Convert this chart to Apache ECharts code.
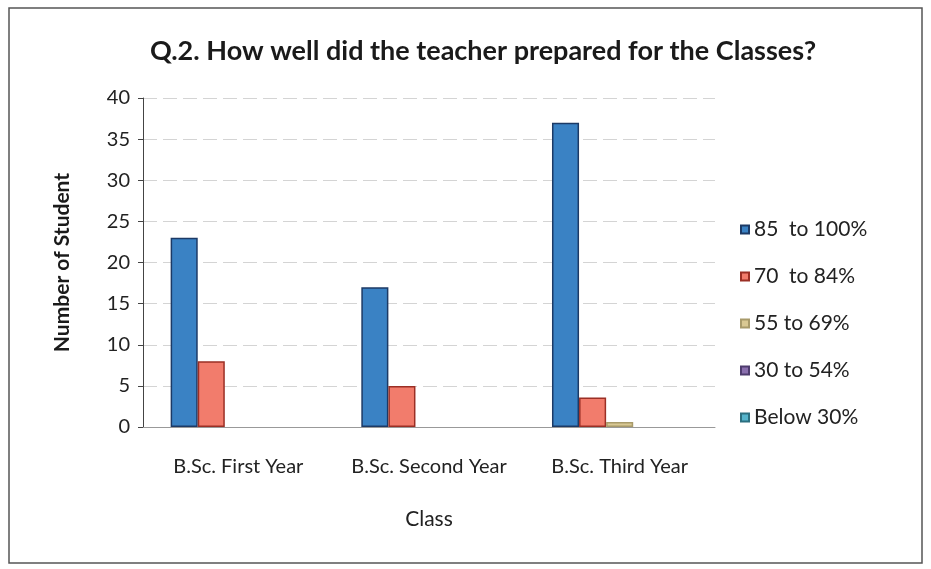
<!DOCTYPE html>
<html>
<head>
<meta charset="utf-8">
<script src="https://cdn.jsdelivr.net/npm/echarts@6/dist/echarts.min.js"></script>
<style>
  html, body { margin: 0; padding: 0; background: #fff; }
  #chart { width: 931px; height: 569px; }
</style>
</head>
<body>
<div id="chart"></div>
<script>
// values
const classes = ['B.Sc. First Year', 'B.Sc. Second Year', 'B.Sc. Third Year'];
const seriesNames = ['85  to 100%', '70  to 84%', '55 to 69%', '30 to 54%', 'Below 30%'];
const band85to100 = [23, 17, 37];
const band70to84 = [8, 5, 3.6];
const band55to69 = [0, 0, 0.6];
const band30to54 = [0, 0, 0];
const bandBelow30 = [0, 0, 0];

const fills = ['#3a82c4', '#f27c6c', '#d9c893', '#8a6fae', '#55b4cc'];
const borders = ['#1c3a66', '#9b2f25', '#a89a6a', '#4e3c6e', '#2b6f80'];

const myChart = echarts.init(document.getElementById('chart'));

const allData = [band85to100, band70to84, band55to69, band30to54, bandBelow30];

const option = {
  backgroundColor: '#fff',
  textStyle: { fontFamily: 'Lato', color: '#222' },
  title: {
    text: 'Q.2. How well did the teacher prepared for the Classes?',
    left: 478,
    textAlign: 'center',
    top: 33,
    textStyle: { fontFamily: 'Lato', fontWeight: 'bold', fontSize: 27, color: '#1a1a1a' }
  },
  graphic: [
    {
      type: 'rect',
      shape: { x: 9, y: 8, width: 913, height: 555 },
      style: { fill: 'none', stroke: '#555', lineWidth: 1.5 },
      silent: true
    }
  ],
  legend: {
    orient: 'vertical',
    left: 735,
    top: 214,
    itemWidth: 8,
    itemHeight: 8,
    itemGap: 26,
    icon: 'rect',
    textStyle: { fontFamily: 'Lato', fontSize: 21, color: '#222' },
    data: seriesNames
  },
  grid: { left: 143, right: 216, top: 98, bottom: 142 },
  xAxis: {
    type: 'category',
    data: classes,
    name: 'Class',
    nameLocation: 'middle',
    nameGap: 82,
    nameTextStyle: { fontFamily: 'Lato', fontSize: 21, color: '#222' },
    axisLine: { lineStyle: { color: '#999' } },
    axisTick: { show: false },
    axisLabel: { interval: 0, hideOverlap: false, margin: 30, fontFamily: 'Lato', fontSize: 20, color: '#222' }
  },
  yAxis: {
    type: 'value',
    min: 0,
    max: 40,
    interval: 5,
    name: 'Number of Student',
    nameLocation: 'middle',
    nameGap: 70,
    nameTextStyle: { fontFamily: 'Lato', fontWeight: 'bold', fontSize: 21, color: '#1a1a1a' },
    axisLine: { show: true, lineStyle: { color: '#444' } },
    axisTick: { show: true, length: 5, lineStyle: { color: '#444' } },
    axisLabel: { margin: 13, fontFamily: 'Lato', fontSize: 20, color: '#222' },
    splitLine: { lineStyle: { color: '#d4d4d4', type: [14, 6] } }
  },
  series: seriesNames.map(function (name, i) {
    return {
      name: name,
      type: 'bar',
      // empty bars get no outline so nothing shows along the axis
      data: allData[i].map(function (v) {
        return v === 0 ? { value: v, itemStyle: { borderWidth: 0 } } : v;
      }),
      barGap: '0%',
      barCategoryGap: '29%',
      itemStyle: { color: fills[i], borderColor: borders[i], borderWidth: 1.5 }
    };
  })
};

myChart.setOption(option);
</script>
</body>
</html>
